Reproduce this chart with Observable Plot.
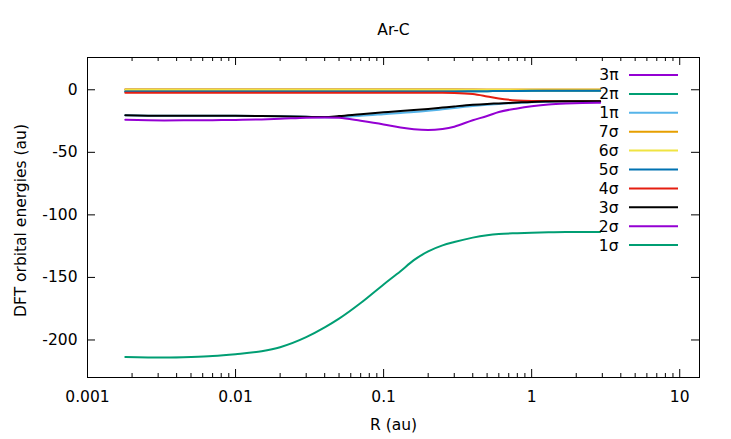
<!DOCTYPE html>
<html><head><meta charset="utf-8">
<script src="https://cdn.jsdelivr.net/npm/d3@7"></script>
<script src="https://cdn.jsdelivr.net/npm/@observablehq/plot@0.6"></script>
<style>body{margin:0;background:#fff} svg{display:block}</style>
</head><body><div id="chart"></div>
<script>
// Internuclear distance R (au)
const R = [0.0018, 0.0033, 0.005, 0.007, 0.01, 0.015, 0.02, 0.03, 0.04, 0.05, 0.07, 0.1, 0.13, 0.16, 0.2, 0.25, 0.3, 0.4, 0.5, 0.6, 0.8, 1.0, 1.3, 1.7, 2.2, 2.9];

// DFT orbital energies (au)
const e3pi = [0.2, 0.2, 0.2, 0.2, 0.2, 0.2, 0.2, 0.2, 0.2, 0.2, 0.2, 0.2, 0.2, 0.2, 0.2, 0.2, 0.2, 0.0, -0.1, -0.2, -0.3, -0.4, -0.5, -0.5, -0.6, -0.6];
const e2pi = [-1.3, -1.3, -1.3, -1.3, -1.3, -1.3, -1.3, -1.3, -1.3, -1.3, -1.3, -1.3, -1.3, -1.3, -1.3, -1.3, -1.3, -1.2, -1.1, -1.0, -0.9, -0.8, -0.7, -0.7, -0.7, -0.7];
const e1pi = [-20.3, -20.8, -20.8, -20.8, -20.8, -21.0, -21.2, -21.6, -21.9, -21.7, -20.8, -19.5, -18.5, -17.8, -16.8, -15.6, -14.6, -13.0, -12.0, -11.3, -10.5, -9.9, -9.5, -9.3, -9.2, -9.1];
const e7sig = [0.2, 0.2, 0.2, 0.2, 0.2, 0.2, 0.2, 0.2, 0.2, 0.2, 0.2, 0.2, 0.2, 0.2, 0.2, 0.2, 0.2, 0.2, 0.2, 0.2, 0.2, 0.2, 0.2, 0.2, 0.2, 0.2];
const e6sig = [0.2, 0.2, 0.2, 0.2, 0.2, 0.2, 0.2, 0.2, 0.2, 0.2, 0.2, 0.2, 0.2, 0.2, 0.2, 0.2, 0.2, 0.0, -0.1, -0.2, -0.3, -0.4, -0.5, -0.5, -0.6, -0.6];
const e5sig = [-1.3, -1.3, -1.3, -1.3, -1.3, -1.3, -1.3, -1.3, -1.3, -1.3, -1.3, -1.3, -1.3, -1.3, -1.3, -1.3, -1.3, -1.2, -1.1, -1.0, -0.9, -0.8, -0.7, -0.7, -0.7, -0.7];
const e4sig = [-2.4, -2.4, -2.4, -2.4, -2.4, -2.4, -2.4, -2.4, -2.4, -2.4, -2.4, -2.4, -2.4, -2.4, -2.4, -2.4, -2.5, -3.4, -5.3, -7.0, -8.5, -8.9, -9.0, -9.1, -9.1, -9.1];
const e3sig = [-20.3, -20.8, -20.8, -20.8, -20.8, -21.0, -21.2, -21.6, -21.8, -21.0, -19.5, -18.0, -16.9, -16.2, -15.3, -14.2, -13.3, -12.0, -11.3, -10.9, -10.2, -9.7, -9.4, -9.2, -9.1, -9.1];
const e2sig = [-24.0, -24.5, -24.4, -24.3, -24.1, -23.7, -23.2, -22.3, -22.1, -22.4, -24.8, -27.7, -30.2, -31.6, -32.2, -31.3, -29.5, -24.3, -21.0, -17.8, -14.9, -13.2, -11.7, -10.9, -10.5, -10.4];
const e1sig = [-213.6, -214.0, -213.6, -212.9, -211.4, -209.0, -205.8, -197.8, -190.0, -183.0, -170.5, -155.6, -145.0, -136.2, -129.2, -124.4, -121.7, -118.2, -116.3, -115.3, -114.6, -114.2, -113.8, -113.6, -113.7, -113.7];

const seriesNames = ["3π", "2π", "1π", "7σ", "6σ", "5σ", "4σ", "3σ", "2σ", "1σ"];
const seriesValues = [e3pi, e2pi, e1pi, e7sig, e6sig, e5sig, e4sig, e3sig, e2sig, e1sig];
const seriesColors = ["#9400d3", "#009e73", "#56b4e9", "#e69f00", "#f0e442", "#0072b2", "#e51e10", "#000000", "#9400d3", "#009e73"];

const xTickValues = [0.001, 0.01, 0.1, 1, 10];
const xTickLabels = ["0.001", "0.01", "0.1", "1", "10"];
const xMinorTicks = [2,3,4,5,6,7,8,9].flatMap(m => [0.001, 0.01, 0.1, 1].map(d => m * d));
const yTickValues = [-200, -150, -100, -50, 0];
const yTickLabels = ["-200", "-150", "-100", "-50", "0"];

const titleText = "Ar-C";
const xLabel = "R (au)";
const yLabel = "DFT orbital energies (au)";

const W = 731, H = 439, mL = 87, mR = 32, mT = 57, mB = 62;
const frameW = W - mL - mR, frameH = H - mT - mB;
const FS = 15.5;
const FONT = "DejaVu Sans";

const rows = seriesNames.flatMap((name, s) => R.map((r, i) => ({series: name, R: r, E: seriesValues[s][i]})));

const legendRowY = i => 18 + i * 18.9;

const legendLines = (index, scales, values, dims) => {
  const g = d3.create("svg:g");
  const x1 = dims.width - dims.marginRight - 70;
  const x2 = dims.width - dims.marginRight - 21;
  seriesNames.forEach((n, i) => {
    const y = dims.marginTop + legendRowY(i);
    g.append("line").attr("x1", x1).attr("x2", x2).attr("y1", y).attr("y2", y)
      .attr("stroke", seriesColors[i]).attr("stroke-width", 2);
  });
  return g.node();
};

const chart = Plot.plot({
  width: W, height: H,
  marginLeft: mL, marginRight: mR, marginTop: mT, marginBottom: mB,
  style: {fontFamily: FONT, fontSize: FS + "px", background: "#fff", color: "#000"},
  x: {type: "log", domain: [0.001, 13.6], axis: null},
  y: {domain: [-230, 25.8], axis: null},
  color: {domain: seriesNames, range: seriesColors},
  marks: [
    Plot.line(rows, {x: "R", y: "E", z: "series", stroke: d => d.series, strokeWidth: 2, curve: "monotone-x"}),
    // ticks (inward, mirrored)
    Plot.tickX(xTickValues, {x: d => d, insetTop: frameH - 8, stroke: "#000"}),
    Plot.tickX(xTickValues, {x: d => d, insetBottom: frameH - 8, stroke: "#000"}),
    Plot.tickX(xMinorTicks, {x: d => d, insetTop: frameH - 4, stroke: "#000"}),
    Plot.tickX(xMinorTicks, {x: d => d, insetBottom: frameH - 4, stroke: "#000"}),
    Plot.tickY(yTickValues, {y: d => d, insetRight: frameW - 8, stroke: "#000"}),
    Plot.tickY(yTickValues, {y: d => d, insetLeft: frameW - 8, stroke: "#000"}),
    Plot.frame({stroke: "#000", strokeWidth: 1}),
    // tick labels
    Plot.text(xTickValues, {x: d => d, frameAnchor: "bottom", dy: 20, text: (d, i) => xTickLabels[i], fontSize: FS, lineAnchor: "middle", textAnchor: "middle", fill: "#000"}),
    Plot.text(yTickValues, {y: d => d, frameAnchor: "left", dx: -10, text: (d, i) => yTickLabels[i], textAnchor: "end", fontSize: FS, lineAnchor: "middle", fill: "#000"}),
    // axis labels and title
    Plot.text([xLabel], {frameAnchor: "bottom", dy: 48, text: d => d, fontSize: FS, lineAnchor: "middle", textAnchor: "middle", fill: "#000"}),
    Plot.text([yLabel], {frameAnchor: "left", dx: -66, dy: 3, rotate: -90, text: d => d, fontSize: FS, lineAnchor: "middle", textAnchor: "middle", fill: "#000"}),
    Plot.text([titleText], {frameAnchor: "top", dy: -27, text: d => d, fontSize: FS, lineAnchor: "middle", textAnchor: "middle", fill: "#000"}),
    // legend
    ...seriesNames.map((n, i) => Plot.text([n], {frameAnchor: "top-right", dx: -81, dy: legendRowY(i), text: d => d, textAnchor: "end", lineAnchor: "middle", fontSize: FS, fill: "#000"})),
    legendLines
  ]
});
document.getElementById("chart").appendChild(chart);
</script>
</body></html>
